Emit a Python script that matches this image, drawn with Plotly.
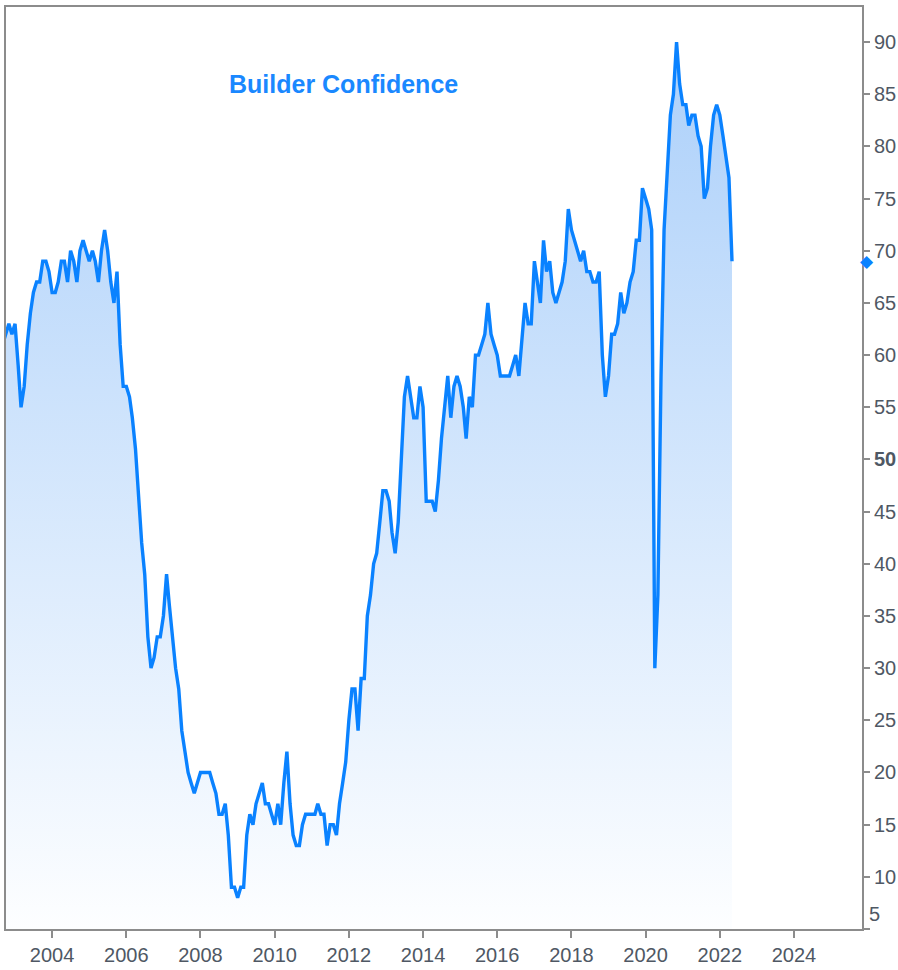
import pandas as pd
import plotly.graph_objects as go

# ---- data (NAHB Housing Market Index, monthly) ----
start_month = "2002-09-01"
hmi = [
    61, 62, 63, 62,                                   # 2002 Sep-Dec
    63, 59, 55, 57, 61, 64, 66, 67, 67, 69, 69, 68,   # 2003
    66, 66, 67, 69, 69, 67, 70, 69, 67, 70, 71, 70,   # 2004
    69, 70, 69, 67, 70, 72, 70, 67, 65, 68, 61, 57,   # 2005
    57, 56, 54, 51, 46, 42, 39, 33, 30, 31, 33, 33,   # 2006
    35, 39, 36, 33, 30, 28, 24, 22, 20, 19, 18, 19,   # 2007
    20, 20, 20, 20, 19, 18, 16, 16, 17, 14, 9, 9,     # 2008
    8, 9, 9, 14, 16, 15, 17, 18, 19, 17, 17, 16,      # 2009
    15, 17, 15, 19, 22, 17, 14, 13, 13, 15, 16, 16,   # 2010
    16, 16, 17, 16, 16, 13, 15, 15, 14, 17, 19, 21,   # 2011
    25, 28, 28, 24, 29, 29, 35, 37, 40, 41, 44, 47,   # 2012
    47, 46, 43, 41, 44, 51, 56, 58, 56, 54, 54, 57,   # 2013
    55, 46, 46, 46, 45, 48, 52, 55, 58, 54, 57, 58,   # 2014
    57, 55, 52, 56, 55, 60, 60, 61, 62, 65, 62, 61,   # 2015
    60, 58, 58, 58, 58, 59, 60, 58, 62, 65, 63, 63,   # 2016
    69, 67, 65, 71, 68, 69, 66, 65, 66, 67, 69, 74,   # 2017
    72, 71, 70, 69, 70, 68, 68, 67, 67, 68, 60, 56,   # 2018
    58, 62, 62, 63, 66, 64, 65, 67, 68, 71, 71, 76,   # 2019
    75, 74, 72, 30, 37, 58, 72, 78, 83, 85, 90, 86,   # 2020
    84, 84, 82, 83, 83, 81, 80, 75, 76, 80, 83, 84,   # 2021
    83, 81, 79, 77, 69,                               # 2022 Jan-May
]
x_tick_years = [2004, 2006, 2008, 2010, 2012, 2014, 2016, 2018, 2020, 2022, 2024]
y_tick_values = list(range(5, 95, 5))
title_text = "Builder Confidence"

dates = pd.date_range(start_month, periods=len(hmi), freq="MS")

x_range = ["2002-10-04", "2025-11-01"]
y_range = [5, 93.36]

blue = "#0a82ff"
axis_grey = "#8c8c8c"
tick_color = "#4f5864"
font_family = "Liberation Sans, Arial, sans-serif"

fig = go.Figure()
fig.add_trace(go.Scatter(
    x=dates, y=hmi, mode="lines",
    line=dict(color=blue, width=3.4),
    fill="tozeroy",
    fillgradient=dict(type="vertical",
                      colorscale=[[0, "rgb(253,254,255)"], [1, "rgb(172,208,250)"]],
                      start=5, stop=90),
    hoverinfo="skip",
))

# last-value diamond marker just right of the value axis
fig.add_annotation(
    text="◆", x=1.0058, y=hmi[-1], xref="paper", yref="y",
    showarrow=False, font=dict(family="DejaVu Sans", size=17, color=blue),
    xanchor="center", yanchor="middle",
)

# lowest tick label sits above its tick (as in the original)
y_tick_text = [f"<b>{v}</b>" if v == 50 else str(v) for v in y_tick_values]
fig.add_annotation(
    text=y_tick_text[0], x=1.0, y=y_tick_values[0], xref="paper", yref="y",
    showarrow=False, xanchor="left", yanchor="bottom", xshift=5, yshift=2,
    font=dict(family=font_family, size=20, color=tick_color),
)
y_tick_text[0] = ""

fig.add_annotation(
    text=f"<b>{title_text}</b>", x=0.394, y=0.9165, xref="paper", yref="paper",
    showarrow=False, font=dict(family=font_family, size=25, color="#1a88ff"),
    xanchor="center", yanchor="middle",
)

fig.update_layout(
    width=898, height=970,
    margin=dict(l=6, r=36, t=7, b=41, autoexpand=False),
    paper_bgcolor="white", plot_bgcolor="white",
    showlegend=False,
    font=dict(family=font_family, size=20, color=tick_color),
)
fig.update_xaxes(
    type="date", range=x_range, automargin=False,
    tickvals=[f"{y}-01-01" for y in x_tick_years],
    ticktext=[str(y) for y in x_tick_years],
    ticks="outside", ticklen=7, tickwidth=2, tickcolor=axis_grey,
    showline=True, linecolor=axis_grey, linewidth=2, mirror=True,
    showgrid=False, zeroline=False,
    tickfont=dict(family=font_family, size=20, color=tick_color),
)
fig.update_yaxes(
    side="right", range=y_range, automargin=False,
    tickvals=y_tick_values,
    ticktext=y_tick_text,
    ticks="outside", ticklen=6, tickwidth=2, tickcolor=axis_grey,
    showline=True, linecolor=axis_grey, linewidth=2, mirror=True,
    showgrid=False, zeroline=False,
    tickfont=dict(family=font_family, size=20, color=tick_color),
)

fig.write_html(
    "out.html",
    config={"displayModeBar": False},
    post_script="document.body.style.margin='0';document.body.style.overflow='hidden';",
)
